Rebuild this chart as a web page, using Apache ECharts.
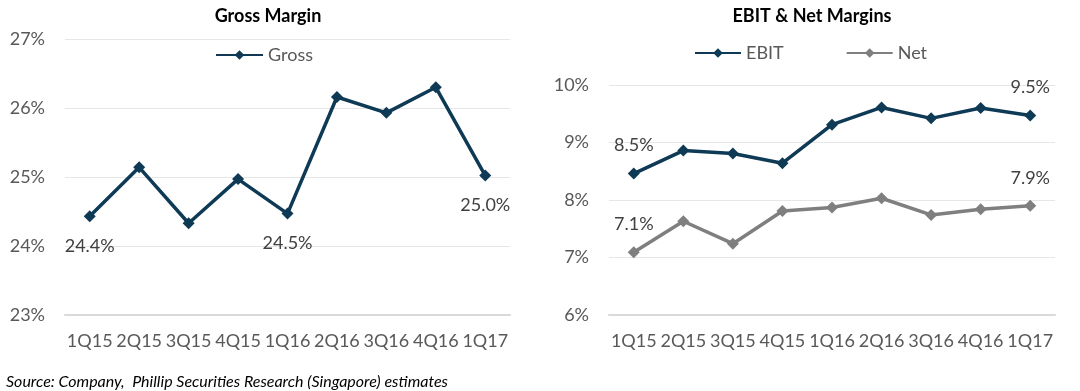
<!DOCTYPE html>
<html><head><meta charset="utf-8">
<script src="https://cdn.jsdelivr.net/npm/echarts@6/dist/echarts.min.js"></script>
<style>html,body{margin:0;padding:0;background:#fff}#c{width:1080px;height:391px}</style>
</head><body><div id="c"></div>
<script>
const categories = ['1Q15','2Q15','3Q15','4Q15','1Q16','2Q16','3Q16','4Q16','1Q17'];
const gross = [24.43, 25.14, 24.33, 24.97, 24.47, 26.16, 25.93, 26.30, 25.02];
const ebit = [8.46, 8.86, 8.81, 8.64, 9.31, 9.61, 9.42, 9.60, 9.47];
const net = [7.09, 7.63, 7.24, 7.81, 7.87, 8.03, 7.74, 7.84, 7.90];
const grossLabelIdx = [0, 4, 8];
const ebitLabelIdx = [0, 8];
const netLabelIdx = [0, 8];

const FONT = 'Lato';
const NAVY = '#0e3a56';
const GREY = '#7f7f7f';
const TXT = '#595959';

function withLabels(vals, idx, pos, dist) {
  return vals.map((v, i) => idx.includes(i)
    ? {value: v, label: {show: true, position: pos, distance: dist, formatter: p => p.value.toFixed(1) + '%',
        color: '#404040', fontSize: 18, fontFamily: FONT}}
    : v);
}

const axisCommon = {
  axisLabel: {color: TXT, fontSize: 18, fontFamily: FONT, formatter: '{value}%', margin: 20},
  splitLine: {lineStyle: {color: '#e6e6e6', width: 1}},
  axisLine: {show: false}, axisTick: {show: false}
};
const catCommon = {
  type: 'category', data: categories, boundaryGap: true,
  axisLabel: {color: TXT, fontSize: 18, fontFamily: FONT, margin: 17, interval: 0},
  axisLine: {lineStyle: {color: '#d9d9d9', width: 2}}, axisTick: {show: false}
};

const chart = echarts.init(document.getElementById('c'));
chart.setOption({
  animation: false,
  title: [
    {text: 'Gross Margin', left: 263, top: 2, textAlign: 'center',
     textStyle: {fontFamily: FONT, fontWeight: 'bold', fontSize: 18, color: '#000'}},
    {text: 'EBIT & Net Margins', left: 807, top: 2, textAlign: 'center',
     textStyle: {fontFamily: FONT, fontWeight: 'bold', fontSize: 18, color: '#000'}},
    {text: 'Source: Company,  Phillip Securities Research (Singapore) estimates', left: 1, top: 369,
     textStyle: {fontFamily: FONT, fontStyle: 'italic', fontWeight: 'normal', fontSize: 16, color: '#000'}}
  ],
  legend: [
    {data: ['Gross'], left: 210, top: 41, itemWidth: 47, itemHeight: 12, itemGap: 40,
     textStyle: {color: TXT, fontSize: 18, fontFamily: FONT}},
    {data: ['EBIT', 'Net'], left: 689, top: 39, itemWidth: 46, itemHeight: 12, itemGap: 62,
     textStyle: {color: TXT, fontSize: 18, fontFamily: FONT}}
  ],
  grid: [
    {left: 65, right: 570, top: 39, bottom: 76},
    {left: 609, right: 25, top: 85, bottom: 76}
  ],
  xAxis: [
    Object.assign({gridIndex: 0}, catCommon),
    Object.assign({gridIndex: 1}, catCommon)
  ],
  yAxis: [
    Object.assign({gridIndex: 0, type: 'value', min: 23, max: 27, interval: 1}, axisCommon),
    Object.assign({gridIndex: 1, type: 'value', min: 6, max: 10, interval: 1}, axisCommon)
  ],
  series: [
    {name: 'Gross', type: 'line', xAxisIndex: 0, yAxisIndex: 0,
     data: withLabels(gross, grossLabelIdx, 'bottom', 15),
     symbol: 'diamond', symbolSize: 12, lineStyle: {color: NAVY, width: 3.5},
     itemStyle: {color: NAVY}},
    {name: 'EBIT', type: 'line', xAxisIndex: 1, yAxisIndex: 1,
     data: withLabels(ebit, ebitLabelIdx, 'top', 13),
     symbol: 'diamond', symbolSize: 12, lineStyle: {color: NAVY, width: 3.5},
     itemStyle: {color: NAVY}},
    {name: 'Net', type: 'line', xAxisIndex: 1, yAxisIndex: 1,
     data: withLabels(net, netLabelIdx, 'top', 13),
     symbol: 'diamond', symbolSize: 12, lineStyle: {color: GREY, width: 3.5},
     itemStyle: {color: GREY}}
  ]
});
</script></body></html>
